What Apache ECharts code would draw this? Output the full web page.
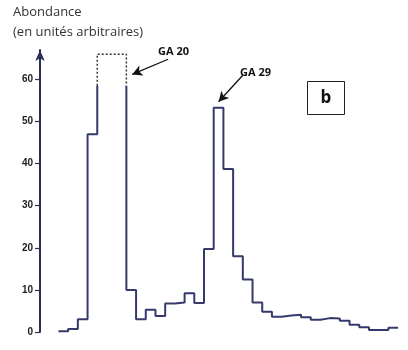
<!DOCTYPE html>
<html><head><meta charset="utf-8">
<script src="https://cdn.jsdelivr.net/npm/echarts@6/dist/echarts.min.js"></script>
<style>html,body{margin:0;padding:0;background:#fff}#c{width:408px;height:350px}</style>
</head><body><div id="c"></div>
<script>
// Bin index (one step per bin) and abundance per bin
const binCount = 35;
const abundance = [0.2, 0.7, 3, 47, 66, 66, 66, 10, 3, 5.3, 3.8, 6.8, 7.0, 9.2, 6.9, 19.7, 53.3, 38.7, 18, 12.5, 7, 4.8, 3.6, 3.9, 4.1, 3.5, 2.9, 3.3, 3.2, 2.7, 1.7, 1.1, 0.5, 0.5, 1.0];
const scaleTop = 58.5;           // values above this are off-scale (dotted)
const yTicks = [0, 10, 20, 30, 40, 50, 60];
const annotations = [
  {text: 'GA 20', from: [11.3, 64.8], to: [7.6, 61.2]},
  {text: 'GA 29', from: [19.0, 61.0], to: [16.5, 54.7]}
];

const lineColor = '#363a6b';
const segments = [];
let cur = [];
const dotted = [];
for (let i = 0; i < abundance.length; i++) {
  const v = abundance[i];
  const prevSat = i > 0 && abundance[i - 1] > scaleTop;
  if (v > scaleTop) {
    if (!prevSat) {
      cur.push([i, scaleTop]);
      segments.push(cur); cur = [];
      dotted.push([i, scaleTop], [i, v]);
    }
    dotted.push([i + 1, v]);
  } else {
    if (prevSat) { dotted.push([i, scaleTop]); cur.push([i, scaleTop]); }
    cur.push([i, v], [i + 1, v]);
  }
}
if (cur.length) segments.push(cur);

const series = segments.map(seg => ({
  type: 'line', data: seg, symbol: 'none', silent: true,
  lineStyle: {color: lineColor, width: 2}, animation: false
}));
series.push({
  type: 'line', data: dotted, symbol: 'none', silent: true,
  lineStyle: {color: '#333', width: 1.5, type: [2, 2]}, animation: false
});
series.push({
  type: 'line', data: [], symbol: 'none',
  markLine: {
    silent: true, symbol: ['none', 'arrow'], symbolSize: [8, 10], animation: false,
    label: {show: false},
    lineStyle: {color: '#111', width: 1.3, type: 'solid'},
    data: annotations.map(a => [{coord: a.from}, {coord: a.to}])
  }
});

const chart = echarts.init(document.getElementById('c'));
chart.setOption({
  animation: false,
  grid: {left: 40, top: 50, width: 361, bottom: 18, containLabel: false, outerBoundsMode: 'none'},
  xAxis: {type: 'value', min: -1.9, max: 35.3, show: false},
  yAxis: {
    type: 'value', min: 0, max: 67,
    splitLine: {show: false},
    axisLine: {show: true, onZero: false, lineStyle: {color: '#2b2e55', width: 2}, symbol: ['none', 'arrow'], symbolSize: [7, 11]},
    axisTick: {show: true, length: 5, customValues: yTicks, lineStyle: {color: '#2b2e55', width: 1.2}},
    axisLabel: {customValues: yTicks, margin: 7, color: '#222', fontSize: 10, fontWeight: 'bold', fontFamily: 'Liberation Sans Narrow, Liberation Sans, sans-serif'}
  },
  graphic: [
    {type: 'text', left: 13, top: 6, style: {text: 'Abondance', fill: '#333', font: '13px "Open Sans"'}},
    {type: 'text', left: 13, top: 26, style: {text: '(en unités arbitraires)', fill: '#333', font: '13px "Open Sans"'}},
    {type: 'text', left: 158, top: 46, style: {text: annotations[0].text, fill: '#111', font: 'bold 11px "Open Sans"'}},
    {type: 'text', left: 240, top: 67, style: {text: annotations[1].text, fill: '#111', font: 'bold 11px "Open Sans"'}},
    {type: 'rect', shape: {x: 307.5, y: 81.5, width: 37, height: 33}, style: {fill: '#fff', stroke: '#222', lineWidth: 1}},
    {type: 'text', x: 326, y: 98, style: {text: 'b', fill: '#111', font: 'bold 17px "Open Sans"', align: 'center', verticalAlign: 'middle'}}
  ],
  series: series
});
</script></body></html>
